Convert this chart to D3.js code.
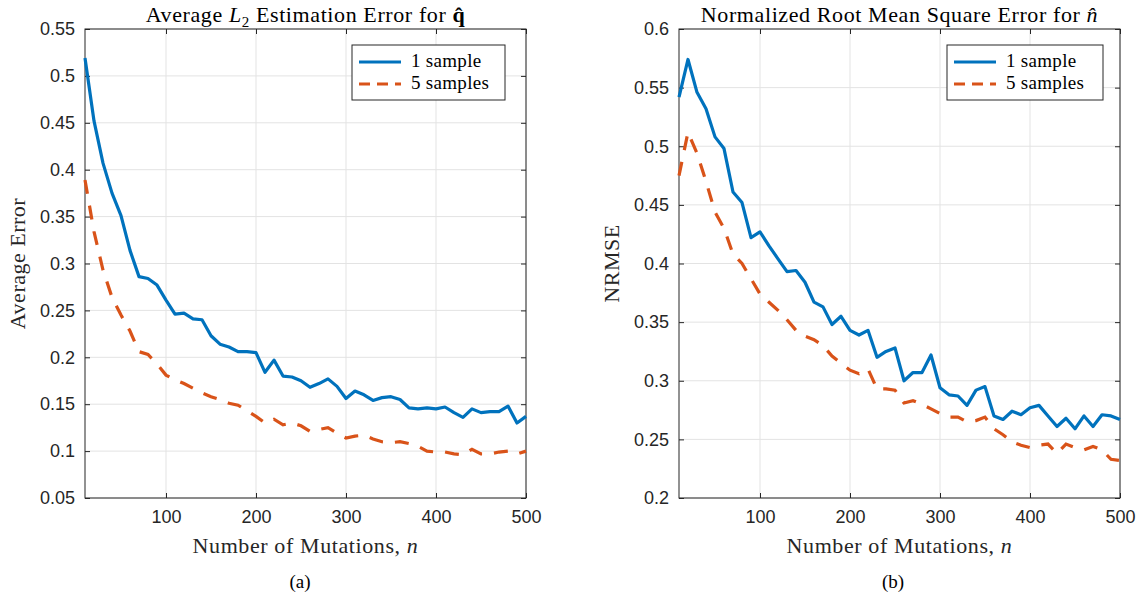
<!DOCTYPE html>
<html><head><meta charset="utf-8">
<script src="https://cdn.jsdelivr.net/npm/d3@7"></script>
<style>body{margin:0;background:#fff}svg{display:block}</style>
</head><body><svg id="c" width="1143" height="599"></svg>
<script>
// ---------- data ----------
const mutations = [10,20,30,40,50,60,70,80,90,100,110,120,130,140,150,160,170,180,190,200,
  210,220,230,240,250,260,270,280,290,300,310,320,330,340,350,360,370,380,390,400,
  410,420,430,440,450,460,470,480,490,500];

const errOneSample = [0.519,0.452,0.407,0.375,0.351,0.314,0.286,0.284,0.277,0.261,
  0.246,0.247,0.241,0.240,0.223,0.214,0.211,0.206,0.206,0.205,
  0.184,0.197,0.180,0.179,0.175,0.168,0.172,0.177,0.169,0.156,
  0.164,0.160,0.154,0.157,0.158,0.155,0.146,0.145,0.146,0.145,
  0.147,0.141,0.136,0.145,0.141,0.142,0.142,0.148,0.130,0.137];
const errFiveSamples = [0.389,0.334,0.293,0.264,0.245,0.228,0.206,0.203,0.193,0.181,
  0.176,0.172,0.167,0.162,0.158,0.155,0.151,0.149,0.143,0.137,
  0.130,0.134,0.128,0.130,0.127,0.121,0.123,0.125,0.119,0.114,
  0.116,0.117,0.113,0.110,0.109,0.110,0.108,0.105,0.100,0.099,
  0.099,0.097,0.096,0.102,0.097,0.097,0.099,0.100,0.097,0.100];

const nrmseOneSample = [0.542,0.574,0.546,0.532,0.508,0.498,0.461,0.452,0.422,0.427,
  0.415,0.404,0.393,0.394,0.384,0.367,0.363,0.348,0.355,0.343,
  0.339,0.343,0.320,0.325,0.328,0.300,0.307,0.307,0.322,0.294,
  0.288,0.287,0.279,0.292,0.295,0.270,0.267,0.274,0.271,0.277,
  0.279,0.270,0.261,0.268,0.259,0.270,0.261,0.271,0.270,0.267];
const nrmseFiveSamples = [0.475,0.512,0.494,0.470,0.444,0.430,0.408,0.400,0.387,0.374,
  0.367,0.360,0.352,0.343,0.338,0.335,0.330,0.321,0.315,0.309,
  0.306,0.310,0.293,0.293,0.292,0.281,0.283,0.280,0.276,0.272,
  0.269,0.269,0.265,0.266,0.269,0.259,0.254,0.248,0.245,0.243,
  0.245,0.246,0.238,0.246,0.243,0.241,0.244,0.241,0.233,0.232];

const xTickValues = [100,200,300,400,500];
const xTickLabels = ["100","200","300","400","500"];
const leftYTickValues = [0.05,0.1,0.15,0.2,0.25,0.3,0.35,0.4,0.45,0.5,0.55];
const leftYTickLabels = ["0.05","0.1","0.15","0.2","0.25","0.3","0.35","0.4","0.45","0.5","0.55"];
const rightYTickValues = [0.2,0.25,0.3,0.35,0.4,0.45,0.5,0.55,0.6];
const rightYTickLabels = ["0.2","0.25","0.3","0.35","0.4","0.45","0.5","0.55","0.6"];
const seriesNames = ["1 sample","5 samples"];

// ---------- style ----------
const SERIF = "'Liberation Serif','DejaVu Serif',serif";
const SANS = "'Liberation Sans',Arial,sans-serif";
const AX = "#262626";
const BLUE = "#0072BD", ORANGE = "#D95319";
const DASH = "14,12";

const svg = d3.select("#c");

function serifText(sel, size, spacing) {
  return sel.style("font-family", SERIF).style("font-size", size + "px")
    .style("letter-spacing", spacing + "px");
}

function panel(opt) {
  const {left, right, top, bottom} = opt;
  const x = d3.scaleLinear().domain([10, 500]).range([left, right]);
  const y = d3.scaleLinear().domain(opt.yDomain).range([bottom, top]);
  const g = svg.append("g");

  // grid
  g.append("g").selectAll("line").data(xTickValues).join("line")
    .attr("x1", d => x(d)).attr("x2", d => x(d)).attr("y1", top).attr("y2", bottom)
    .attr("stroke", "#e3e3e3").attr("stroke-width", 1);
  g.append("g").selectAll("line").data(opt.yTicks).join("line")
    .attr("x1", left).attr("x2", right).attr("y1", d => y(d)).attr("y2", d => y(d))
    .attr("stroke", "#e3e3e3").attr("stroke-width", 1);

  // axes
  const fmtX = d => xTickLabels[xTickValues.indexOf(d)];
  const fmtY = d => opt.yLabels[opt.yTicks.indexOf(d)];
  const styleAxis = sel => {
    sel.select(".domain").remove();
    sel.selectAll(".tick line").attr("stroke", AX);
    sel.selectAll(".tick text").attr("fill", AX).style("font-family", SANS).style("font-size", "18px");
  };
  g.append("g").attr("transform", `translate(0,${bottom})`)
    .call(d3.axisBottom(x).tickValues(xTickValues).tickFormat(fmtX).tickSize(-5).tickPadding(12)).call(styleAxis);
  g.append("g").attr("transform", `translate(0,${top})`)
    .call(d3.axisTop(x).tickValues(xTickValues).tickFormat("").tickSize(-5)).call(styleAxis);
  g.append("g").attr("transform", `translate(${left},0)`)
    .call(d3.axisLeft(y).tickValues(opt.yTicks).tickFormat(fmtY).tickSize(-5).tickPadding(10)).call(styleAxis);
  g.append("g").attr("transform", `translate(${right},0)`)
    .call(d3.axisRight(y).tickValues(opt.yTicks).tickFormat("").tickSize(-5)).call(styleAxis);
  g.append("rect").attr("x", left).attr("y", top).attr("width", right - left).attr("height", bottom - top)
    .attr("fill", "none").attr("stroke", AX).attr("stroke-width", 1);

  // lines
  const line = d3.line().x((d, i) => x(mutations[i])).y(d => y(d));
  g.append("path").datum(opt.s1).attr("d", line).attr("fill", "none")
    .attr("stroke", BLUE).attr("stroke-width", 3.2).attr("stroke-linejoin", "round");
  g.append("path").datum(opt.s2).attr("d", line).attr("fill", "none")
    .attr("stroke", ORANGE).attr("stroke-width", 3.2).attr("stroke-dasharray", DASH);

  // legend
  const L = opt.legend;
  g.append("rect").attr("x", L.x).attr("y", L.y).attr("width", L.w).attr("height", 55)
    .attr("fill", "#fff").attr("stroke", AX).attr("stroke-width", 1);
  [[BLUE, null], [ORANGE, "11,7"]].forEach((c, i) => {
    const yy = L.y + 17 + i * 22;
    g.append("line").attr("x1", L.x + 7).attr("x2", L.x + 49).attr("y1", yy).attr("y2", yy)
      .attr("stroke", c[0]).attr("stroke-width", 3.2).attr("stroke-dasharray", c[1]);
    serifText(g.append("text"), 19, 0.3).attr("x", L.x + 59).attr("y", yy + 5).text(seriesNames[i])
      .attr("fill", "#000");
  });

  // titles & labels
  const cx = (left + right) / 2;
  const t = serifText(g.append("text"), 22, 0.6).attr("x", cx).attr("y", 22).attr("text-anchor", "middle")
    .attr("fill", "#000");
  opt.title(t);
  const xl = serifText(g.append("text"), 22, 0.6).attr("x", cx).attr("y", 553).attr("text-anchor", "middle")
    .attr("fill", AX);
  xl.append("tspan").text("Number of Mutations, ");
  xl.append("tspan").style("font-style", "italic").text("n");
  serifText(g.append("text"), 22, 0.5)
    .attr("transform", `translate(${opt.yLabelX},${(top + bottom) / 2}) rotate(-90)`)
    .attr("text-anchor", "middle").attr("fill", AX).text(opt.yLabel);
  serifText(g.append("text"), 19, 0).attr("x", opt.capX).attr("y", 588).attr("text-anchor", "middle")
    .attr("fill", "#000").text(opt.caption);
}

panel({
  left: 85, right: 526, top: 29, bottom: 498,
  yDomain: [0.05, 0.55], yTicks: leftYTickValues, yLabels: leftYTickLabels,
  s1: errOneSample, s2: errFiveSamples,
  legend: {x: 352, y: 45, w: 153},
  yLabelX: 25, yLabel: "Average Error", capX: 300, caption: "(a)",
  title: t => {
    t.append("tspan").text("Average ");
    t.append("tspan").style("font-style", "italic").text("L");
    t.append("tspan").attr("dy", 5).style("font-size", "15px").text("2");
    t.append("tspan").attr("dy", -5).text(" Estimation Error for ");
    t.append("tspan").style("font-weight", "bold").text("q\u0302");
  }
});
panel({
  left: 679, right: 1120, top: 29, bottom: 498,
  yDomain: [0.2, 0.6], yTicks: rightYTickValues, yLabels: rightYTickLabels,
  s1: nrmseOneSample, s2: nrmseFiveSamples,
  legend: {x: 947, y: 45, w: 156},
  yLabelX: 619, yLabel: "NRMSE", capX: 893, caption: "(b)",
  title: t => {
    t.append("tspan").text("Normalized Root Mean Square Error for ");
    t.append("tspan").style("font-style", "italic").text("n\u0302");
  }
});
</script></body></html>
